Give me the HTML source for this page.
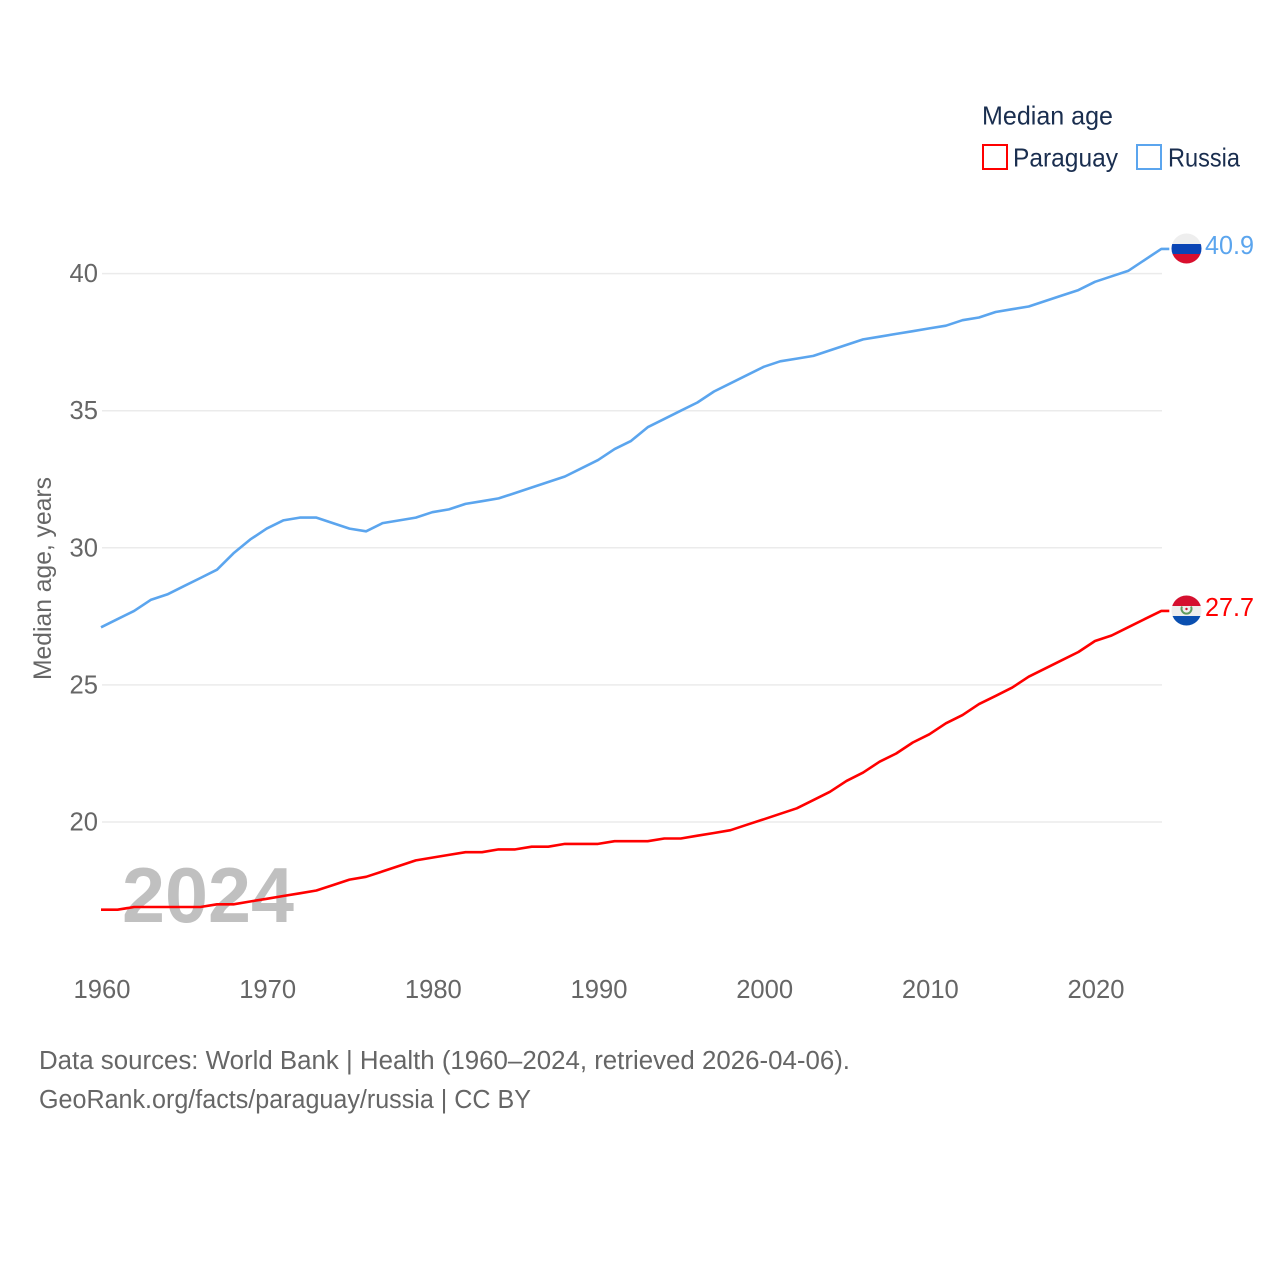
<!DOCTYPE html>
<html>
<head>
<meta charset="utf-8">
<style>
html,body{margin:0;padding:0;background:#fff}
svg{display:block}
text{font-family:"Liberation Sans",sans-serif}
</style>
</head>
<body>
<svg id="chart" xmlns="http://www.w3.org/2000/svg" width="1280" height="1280" viewBox="0 0 1280 1280">
  <defs>
    <clipPath id="clip-ru"><circle cx="1186.5" cy="248.5" r="15"/></clipPath>
    <clipPath id="clip-py"><circle cx="1186.5" cy="610.5" r="15"/></clipPath>
  </defs>
  <g id="grid"></g>
  <text x="122" y="922" font-size="78" font-weight="700" fill="#c0c0c0" textLength="172" lengthAdjust="spacingAndGlyphs">2024</text>
  <g id="yticks"></g>
  <g id="xticks"></g>
  <text transform="translate(51,680) rotate(-90)" font-size="25" fill="#666666" textLength="203" lengthAdjust="spacingAndGlyphs">Median age, years</text>
  <polyline id="line-russia" fill="none" stroke="#5ba5ee" stroke-width="2.6" stroke-linejoin="round"/>
  <polyline id="line-paraguay" fill="none" stroke="#ff0000" stroke-width="2.6" stroke-linejoin="round"/>

  <g clip-path="url(#clip-ru)">
    <rect x="1171" y="233" width="31" height="11" fill="#eeeeee"/>
    <rect x="1171" y="244" width="31" height="10" fill="#0a45b5"/>
    <rect x="1171" y="254" width="31" height="10" fill="#d90f2e"/>
  </g>
  <text id="label-russia" x="1205" y="254" font-size="25.5" fill="#5ba5ee" textLength="49" lengthAdjust="spacingAndGlyphs">40.9</text>

  <g clip-path="url(#clip-py)">
    <rect x="1171" y="595" width="31" height="11" fill="#d5102f"/>
    <rect x="1171" y="606" width="31" height="10" fill="#eeeeee"/>
    <rect x="1171" y="616" width="31" height="10" fill="#0a4fb0"/>
    <path d="M1182 606.5 a5 5 0 1 0 9 0" fill="none" stroke="#5f9c5f" stroke-width="2"/>
    <circle cx="1186.5" cy="609" r="1.2" fill="#d5102f"/>
  </g>
  <text id="label-paraguay" x="1205" y="616" font-size="25.5" fill="#ff0000" textLength="49" lengthAdjust="spacingAndGlyphs">27.7</text>

  <g>
    <text x="982" y="124.5" font-size="26" fill="#1a2e4f" textLength="131" lengthAdjust="spacingAndGlyphs">Median age</text>
    <rect x="983" y="145" width="24" height="24" fill="#fff" stroke="#ff0000" stroke-width="2"/>
    <text x="1013" y="166.5" font-size="26" fill="#1a2e4f" textLength="105" lengthAdjust="spacingAndGlyphs">Paraguay</text>
    <rect x="1137" y="145" width="24" height="24" fill="#fff" stroke="#5ba5ee" stroke-width="2"/>
    <text x="1168" y="166.5" font-size="26" fill="#1a2e4f" textLength="72" lengthAdjust="spacingAndGlyphs">Russia</text>
  </g>

  <text x="39" y="1069" font-size="25.5" fill="#666666" textLength="811" lengthAdjust="spacingAndGlyphs">Data sources: World Bank | Health (1960–2024, retrieved 2026-04-06).</text>
  <text x="39" y="1108" font-size="25.5" fill="#666666" textLength="492" lengthAdjust="spacingAndGlyphs">GeoRank.org/facts/paraguay/russia | CC BY</text>
</svg>
<script>
var years = [1960,1961,1962,1963,1964,1965,1966,1967,1968,1969,1970,1971,1972,1973,1974,1975,1976,1977,1978,1979,1980,1981,1982,1983,1984,1985,1986,1987,1988,1989,1990,1991,1992,1993,1994,1995,1996,1997,1998,1999,2000,2001,2002,2003,2004,2005,2006,2007,2008,2009,2010,2011,2012,2013,2014,2015,2016,2017,2018,2019,2020,2021,2022,2023,2024];
var russia = [27.1,27.4,27.7,28.1,28.3,28.6,28.9,29.2,29.8,30.3,30.7,31.0,31.1,31.1,30.9,30.7,30.6,30.9,31.0,31.1,31.3,31.4,31.6,31.7,31.8,32.0,32.2,32.4,32.6,32.9,33.2,33.6,33.9,34.4,34.7,35.0,35.3,35.7,36.0,36.3,36.6,36.8,36.9,37.0,37.2,37.4,37.6,37.7,37.8,37.9,38.0,38.1,38.3,38.4,38.6,38.7,38.8,39.0,39.2,39.4,39.7,39.9,40.1,40.5,40.9];
var paraguay = [16.8,16.8,16.9,16.9,16.9,16.9,16.9,17.0,17.0,17.1,17.2,17.3,17.4,17.5,17.7,17.9,18.0,18.2,18.4,18.6,18.7,18.8,18.9,18.9,19.0,19.0,19.1,19.1,19.2,19.2,19.2,19.3,19.3,19.3,19.4,19.4,19.5,19.6,19.7,19.9,20.1,20.3,20.5,20.8,21.1,21.5,21.8,22.2,22.5,22.9,23.2,23.6,23.9,24.3,24.6,24.9,25.3,25.6,25.9,26.2,26.6,26.8,27.1,27.4,27.7];
var yTickValues = [20,25,30,35,40];
var xTickValues = [1960,1970,1980,1990,2000,2010,2020];

var NS = 'http://www.w3.org/2000/svg';
function xScale(year){ return 101 + (year - 1960) * 16.5667; }
function yScale(v){ return 822 - (v - 20) * 27.42; }

function makeEl(tag){ return document.createElementNS(NS, tag); }

var gridGroup = document.getElementById('grid');
var yGroup = document.getElementById('yticks');
yTickValues.forEach(function(v){
  var line = makeEl('line');
  
  
  line.setAttribute('x1', 102);
  line.setAttribute('x2', 1162);
  line.setAttribute('y1', yScale(v));
  line.setAttribute('y2', yScale(v));
  line.setAttribute('stroke', '#ebebeb');
  line.setAttribute('stroke-width', '1.5');
  gridGroup.appendChild(line);

  var t = makeEl('text');
  
  
  t.setAttribute('x', 98);
  t.setAttribute('y', yScale(v) + 8.5);
  t.setAttribute('text-anchor', 'end');
  t.setAttribute('font-size', '25.6');
  t.setAttribute('fill', '#666666');
  t.textContent = String(v);
  yGroup.appendChild(t);
});

var xGroup = document.getElementById('xticks');
xTickValues.forEach(function(y){
  var t = makeEl('text');
  
  
  t.setAttribute('x', xScale(y) + 1);
  t.setAttribute('y', 998);
  t.setAttribute('text-anchor', 'middle');
  t.setAttribute('font-size', '25.6');
  t.setAttribute('fill', '#666666');
  t.textContent = String(y);
  xGroup.appendChild(t);
});

function seriesPoints(values){
  var pts = values.map(function(v, i){ return xScale(years[i]).toFixed(1) + ',' + yScale(v).toFixed(1); });
  pts.push((xScale(years[years.length - 1]) + 8).toFixed(1) + ',' + yScale(values[values.length - 1]).toFixed(1));
  return pts.join(' ');
}
document.getElementById('line-russia').setAttribute('points', seriesPoints(russia));
document.getElementById('line-paraguay').setAttribute('points', seriesPoints(paraguay));
</script>
</body>
</html>
